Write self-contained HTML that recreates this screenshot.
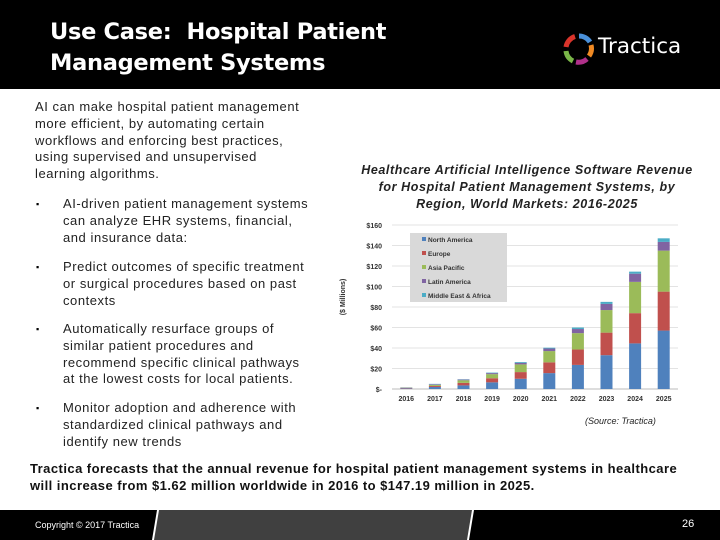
<!DOCTYPE html>
<html><head><meta charset="utf-8"><style>
body{margin:0;width:720px;height:540px;position:relative;overflow:hidden;background:#fff;font-family:"Liberation Sans",sans-serif}
.abs{position:absolute}
.t{font-size:13px;line-height:16.8px;color:#222;white-space:nowrap;letter-spacing:0.55px}
</style></head><body>
<div class="abs" style="left:0;top:0;width:720px;height:89px;background:#000"></div>
<div class="abs" style="left:50px;top:17px;color:#fff;font-family:'DejaVu Sans',sans-serif;font-weight:bold;font-size:22.5px;line-height:31px;letter-spacing:-0.3px">Use Case:&nbsp; Hospital Patient<br>Management Systems</div>
<div class="abs" style="left:563px;top:33px;width:32px;height:32px">
<svg width="32" height="32" viewBox="0 0 32 32"><g fill="none" stroke-width="5">
<path d="M16 3 A13 13 0 0 1 27 9" stroke="#4a90d9"/><path d="M28 12 A13 13 0 0 1 26 23" stroke="#f08a24"/><path d="M24 26 A13 13 0 0 1 13 29" stroke="#b0308a"/><path d="M10 28 A13 13 0 0 1 3 18" stroke="#7ab648"/><path d="M3 14 A13 13 0 0 1 12 3.5" stroke="#d9342b"/></g></svg></div>
<div class="abs" style="left:598px;top:34px;color:#fff;font-family:'DejaVu Sans',sans-serif;font-size:21.5px">Tractica</div>

<div class="abs t" style="left:35px;top:99px">AI can make hospital patient management<br>more efficient, by automating certain<br>workflows and enforcing best practices,<br>using supervised and unsupervised<br>learning algorithms.</div>
<div class="abs t" style="left:63px;top:196px">AI-driven patient management systems<br>can analyze EHR systems, financial,<br>and insurance data:</div>
<div class="abs t" style="left:63px;top:259px">Predict outcomes of specific treatment<br>or surgical procedures based on past<br>contexts</div>
<div class="abs t" style="left:63px;top:321px">Automatically resurface groups of<br>similar patient procedures and<br>recommend specific clinical pathways<br>at the lowest costs for local patients.</div>
<div class="abs t" style="left:63px;top:400px">Monitor adoption and adherence with<br>standardized clinical pathways and<br>identify new trends</div>
<div class="abs" style="left:36px;top:199px;font-size:9px">&#9642;</div>
<div class="abs" style="left:36px;top:262px;font-size:9px">&#9642;</div>
<div class="abs" style="left:36px;top:324px;font-size:9px">&#9642;</div>
<div class="abs" style="left:36px;top:403px;font-size:9px">&#9642;</div>

<div class="abs" style="left:327px;top:162px;width:400px;text-align:center;font-weight:bold;font-style:italic;font-size:12.5px;line-height:17px;color:#222;white-space:nowrap;letter-spacing:0.6px">Healthcare Artificial Intelligence Software Revenue<br>for Hospital Patient Management Systems, by<br>Region, World Markets: 2016-2025</div>

<svg class="abs" style="left:0;top:0" width="720" height="540" id="chart"></svg>

<div class="abs" style="left:585px;top:416px;font-size:9px;font-style:italic;color:#222">(Source: Tractica)</div>
<div class="abs" style="left:30px;top:460px;font-weight:bold;font-size:13px;line-height:17px;color:#111;white-space:nowrap;letter-spacing:0.45px">Tractica forecasts that the annual revenue for hospital patient management systems in healthcare<br>will increase from $1.62 million worldwide in 2016 to $147.19 million in 2025.</div>

<svg class="abs" style="left:0;top:510px" width="720" height="30">
<polygon points="0,0 157,0 152,30 0,30" fill="#000"/>
<polygon points="159,0 472,0 467,30 154,30" fill="#404040"/>
<polygon points="474,0 720,0 720,30 469,30" fill="#000"/>
</svg>
<div class="abs" style="left:35px;top:520px;color:#fff;font-size:9px">Copyright © 2017 Tractica</div>
<div class="abs" style="left:682px;top:518px;color:#fff;font-size:11px">26</div>

<script>
const years=["2016","2017","2018","2019","2020","2021","2022","2023","2024","2025"];
const northAmerica=[0.6,2,3.5,6.5,10,15.5,23.5,33,44.5,57];
const europe=[0.4,1,2.5,4,6.5,10.5,15,22,29.5,38];
const asiaPacific=[0.3,1,2.5,4,7.5,11,16,22,30.5,40];
const latinAmerica=[0.2,0.6,0.7,1,1.5,2.5,4,6,8,8.5];
const middleEastAfrica=[0.12,0.4,0.3,0.5,0.8,0.8,1.5,2,2,3.5];
const yTicks=[0,20,40,60,80,100,120,140,160];
const yTickLabels=["$-","$20","$40","$60","$80","$100","$120","$140","$160"];
const seriesNames=["North America","Europe","Asia Pacific","Latin America","Middle East & Africa"];
const colors=["#4f81bd","#c0504d","#9bbb59","#8064a2","#4bacc6"];
const NS="http://www.w3.org/2000/svg";
const svg=document.getElementById('chart');
const x0=392,x1=678,yTop=225,yBot=389;
const y=v=>yBot-(v/160)*(yBot-yTop);
const step=(x1-x0)/years.length;
const xc=i=>x0+step*(i+0.5);
function mk(tag,a){const e=document.createElementNS(NS,tag);for(const k in a)e.setAttribute(k,a[k]);svg.appendChild(e);return e;}
yTicks.forEach((t,i)=>{
 if(t>0){const g=mk('line',{x1:x0,x2:x1,y1:y(t),y2:y(t),stroke:'#e3e3e3','stroke-width':1});
 
 }
 const l=mk('text',{x:x0-10,y:y(t)+3,'text-anchor':'end','font-size':'7','font-weight':'bold',fill:'#333','font-family':'Liberation Sans'});
 l.textContent=yTickLabels[i];
 
 
});
const ax=mk('line',{x1:x0,x2:x1,y1:yBot,y2:yBot,stroke:'#bbb','stroke-width':1});


const series=[northAmerica,europe,asiaPacific,latinAmerica,middleEastAfrica];
years.forEach((yr,i)=>{
 let base=0;
 series.forEach((s,k)=>{
  const r=mk('rect',{x:xc(i)-6,width:12,y:y(base+s[i]),height:y(base)-y(base+s[i]),fill:colors[k]});
  
  
  base+=s[i];
 });
 const l=mk('text',{x:xc(i),y:yBot+12,'text-anchor':'middle','font-size':'7','font-weight':'bold',fill:'#333','font-family':'Liberation Sans'});
 l.textContent=yr;
 
 
});
const yt=mk('text',{x:0,y:0,transform:'translate(345,297) rotate(-90)','text-anchor':'middle','font-size':'7','font-weight':'bold',fill:'#333','font-family':'Liberation Sans'});
yt.textContent='($ Millions)';


const lb=mk('rect',{x:410,y:233,width:97,height:69,fill:'#d9d9d9'});


seriesNames.forEach((n,k)=>{
 const sw=mk('rect',{x:422,y:237+k*14,width:4,height:4,fill:colors[k]});
 
 
 const t=mk('text',{x:428,y:242+k*14,'font-size':'6.5','font-weight':'bold',fill:'#333','font-family':'Liberation Sans'});
 t.textContent=n;
 
 
});
</script>
</body></html>
